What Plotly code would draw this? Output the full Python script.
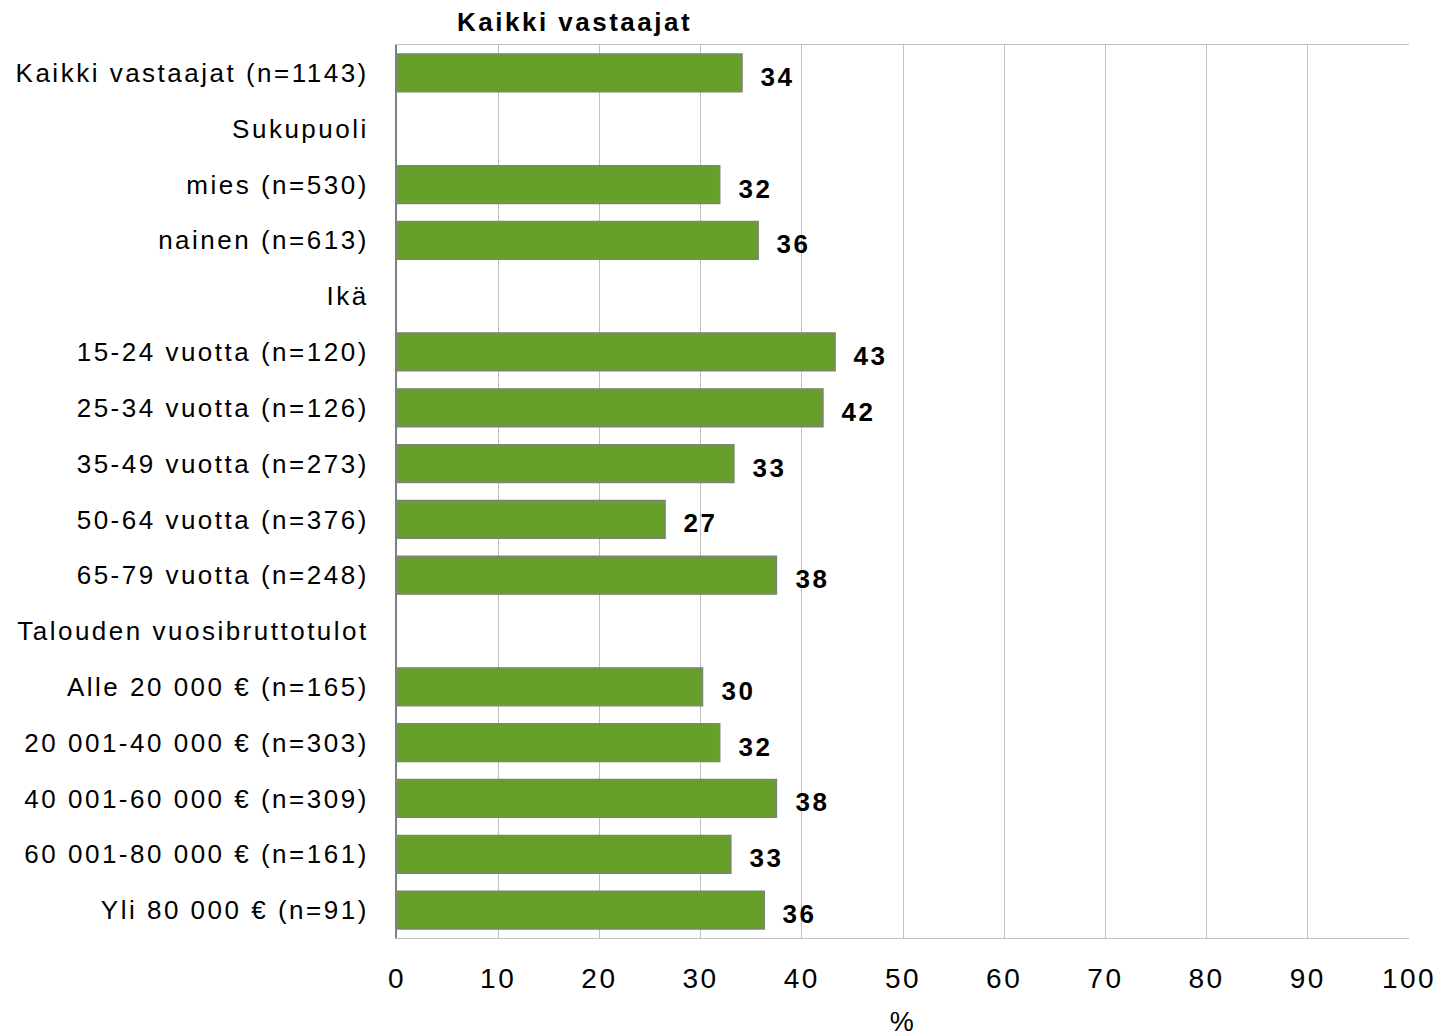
import plotly.graph_objects as go

categories = [
    "Kaikki vastaajat (n=1143)",
    "Sukupuoli",
    "mies (n=530)",
    "nainen (n=613)",
    "Ikä",
    "15-24 vuotta (n=120)",
    "25-34 vuotta (n=126)",
    "35-49 vuotta (n=273)",
    "50-64 vuotta (n=376)",
    "65-79 vuotta (n=248)",
    "Talouden vuosibruttotulot",
    "Alle 20 000 € (n=165)",
    "20 001-40 000 € (n=303)",
    "40 001-60 000 € (n=309)",
    "60 001-80 000 € (n=161)",
    "Yli 80 000 € (n=91)",
]
values = [34.1, None, 31.9, 35.7, None, 43.3, 42.1, 33.3, 26.5, 37.5,
          None, 30.2, 31.9, 37.5, 33.0, 36.3]
labels = ["34", "", "32", "36", "", "43", "42", "33", "27", "38",
          "", "30", "32", "38", "33", "36"]
x_ticks = [0, 10, 20, 30, 40, 50, 60, 70, 80, 90, 100]
chart_title = "Kaikki vastaajat"
x_title = "%"

FONT = "Liberation Sans, Arial, sans-serif"
FS = 26

fig = go.Figure()
fig.add_trace(go.Bar(
    y=categories, x=values, orientation="h",
    marker=dict(color="#66a02b", line=dict(color="#808080", width=1.3)),
    width=0.68, hoverinfo="skip",
))

for c, v, t in zip(categories, values, labels):
    if v is None:
        continue
    fig.add_annotation(x=v, y=c, text=f"<b>{t}</b>", showarrow=False,
                       xanchor="left", xshift=19, yshift=-4,
                       font=dict(family=FONT, size=FS, color="black"))

fig.add_annotation(xref="x", yref="paper", x=17.5, y=1.0, yanchor="middle", yshift=23,
                   text=f"<b>{chart_title}</b>", showarrow=False,
                   font=dict(family=FONT, size=FS, color="black"))
fig.add_annotation(xref="x", yref="paper", x=50, y=0.0, yanchor="middle", yshift=-84,
                   text=x_title, showarrow=False,
                   font=dict(family=FONT, size=27, color="black"))

fig.update_layout(
    width=1452, height=1036,
    margin=dict(l=397, r=43, t=45, b=98, autoexpand=False),
    plot_bgcolor="white", paper_bgcolor="white",
    showlegend=False,
    font=dict(family=FONT, size=FS, color="black"),
)
fig.update_xaxes(
    range=[0, 100], tickvals=x_ticks, ticks="",
    showgrid=True, gridcolor="#c0c0c0", gridwidth=1,
    showline=True, linecolor="#c0c0c0", linewidth=1, mirror=True,
    zeroline=False, ticklabelstandoff=15, automargin=False,
    tickfont=dict(family=FONT, size=28, color="black"),
)
fig.update_yaxes(
    categoryorder="array", categoryarray=categories, autorange="reversed",
    showgrid=False, showline=True, linecolor="#808080", linewidth=2,
    ticks="", ticklabelstandoff=21, automargin=False,
    tickfont=dict(family=FONT, size=FS, color="black"),
)

post = """
document.body.style.margin = '0';
document.body.style.overflow = 'hidden';
var gd = document.getElementsByClassName('plotly-graph-div')[0];
gd.querySelectorAll('svg text').forEach(function(t){ t.style.letterSpacing = '2.5px'; });
"""
fig.write_html("out.html", post_script=post, config={"displayModeBar": False})
